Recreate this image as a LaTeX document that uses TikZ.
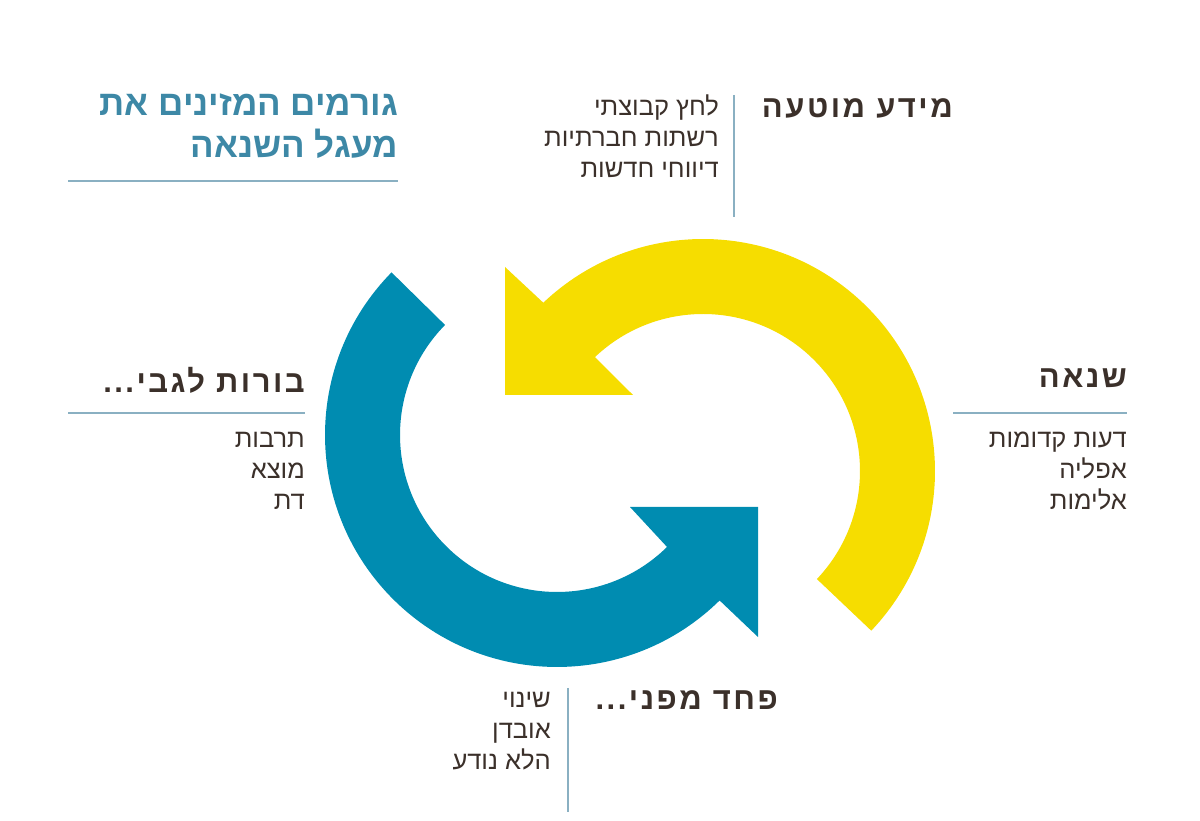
\documentclass[tikz,border=0pt]{standalone}
\usepackage{fontspec}
\setmainfont{Liberation Sans}
\newfontfamily\hebfont[Script=Hebrew]{Liberation Sans}
\newfontfamily\hebheadfont[Script=Hebrew,LetterSpace=8]{Liberation Sans}
\TeXXeTstate=1
\usetikzlibrary{positioning,calc}
\definecolor{cycleyellow}{HTML}{F6DD00}
\definecolor{cycleblue}{HTML}{008CB1}
\definecolor{teal}{HTML}{3D88A6}
\definecolor{darktext}{HTML}{3B302A}
\definecolor{rulecolor}{HTML}{8AB0C2}
\newcommand\heb[1]{\beginR#1\endR}

\begin{document}
\begin{tikzpicture}[
  x=1pt, y=1pt,
  title/.style={
    anchor=east, inner sep=0pt, align=right, text=teal,
    font=\hebfont\bfseries\fontsize{35}{42}\selectfont
  },
  heading/.style={
    anchor=east, inner sep=0pt, text=darktext,
    font=\hebheadfont\bfseries\fontsize{31}{36}\selectfont
  },
  itemlist/.style={
    anchor=east, inner sep=0pt, align=right, text=darktext,
    font=\hebfont\fontsize{25.5}{31}\selectfont
  },
  rule/.style={draw=rulecolor, line width=1.2pt}
]
  \useasboundingbox (0,0) rectangle (1200,821);

  % the two arcs of the cycle
  \fill[cycleyellow] (703,350) ++(-43.5:232) arc[start angle=-43.5, end angle=133.5, radius=232]
    -- (505,554) -- (505,426) -- (633,426)
    -- ($(703,350)+(133.5:157)$) arc[start angle=133.5, end angle=-43.5, radius=157] -- cycle;
  \fill[cycleblue] (557,386) ++(135.5:232) arc[start angle=135.5, end angle=314.5, radius=232]
    -- (758,184) -- (758,314) -- (630,314)
    -- ($(557,386)+(314.5:157)$) arc[start angle=314.5, end angle=135.5, radius=157] -- cycle;

  % title
  \node[title] (title) at (398,695) {\heb{גורמים המזינים את}\\\heb{מעגל השנאה}};
  \coordinate (titlerule) at (68,640);
  \draw[rule] (titlerule) -- ++(330,0);

  % misinformation
  \node[heading] (misinfo) at (953,713) {\heb{מידע מוטעה}};
  \node[itemlist] (misinfolist) at (719,685) {\heb{לחץ קבוצתי}\\\heb{רשתות חברתיות}\\\heb{דיווחי חדשות}};
  \coordinate (misinfotop) at (734,726);
  \draw[rule] (misinfotop) -- ++(0,-122);

  % hate
  \node[heading] (hate) at (1127,443) {\heb{שנאה}};
  \coordinate (haterule) at (953,408);
  \draw[rule] (haterule) -- ++(174,0);
  \node[itemlist] (hatelist) at (1127,350) {\heb{דעות קדומות}\\\heb{אפליה}\\\heb{אלימות}};

  % ignorance
  \node[heading] (ignorance) at (305,441) {\heb{בורות לגבי...}};
  \coordinate (ignorancerule) at (68,408);
  \draw[rule] (ignorancerule) -- ++(237,0);
  \node[itemlist] (ignorancelist) at (305,350) {\heb{תרבות}\\\heb{מוצא}\\\heb{דת}};

  % fear
  \node[heading] (fear) at (778,121) {\heb{פחד מפני...}};
  \node[itemlist] (fearlist) at (551,90) {\heb{שינוי}\\\heb{אובדן}\\\heb{הלא נודע}};
  \coordinate (feartop) at (568,133);
  \draw[rule] (feartop) -- ++(0,-124);
\end{tikzpicture}
\end{document}
